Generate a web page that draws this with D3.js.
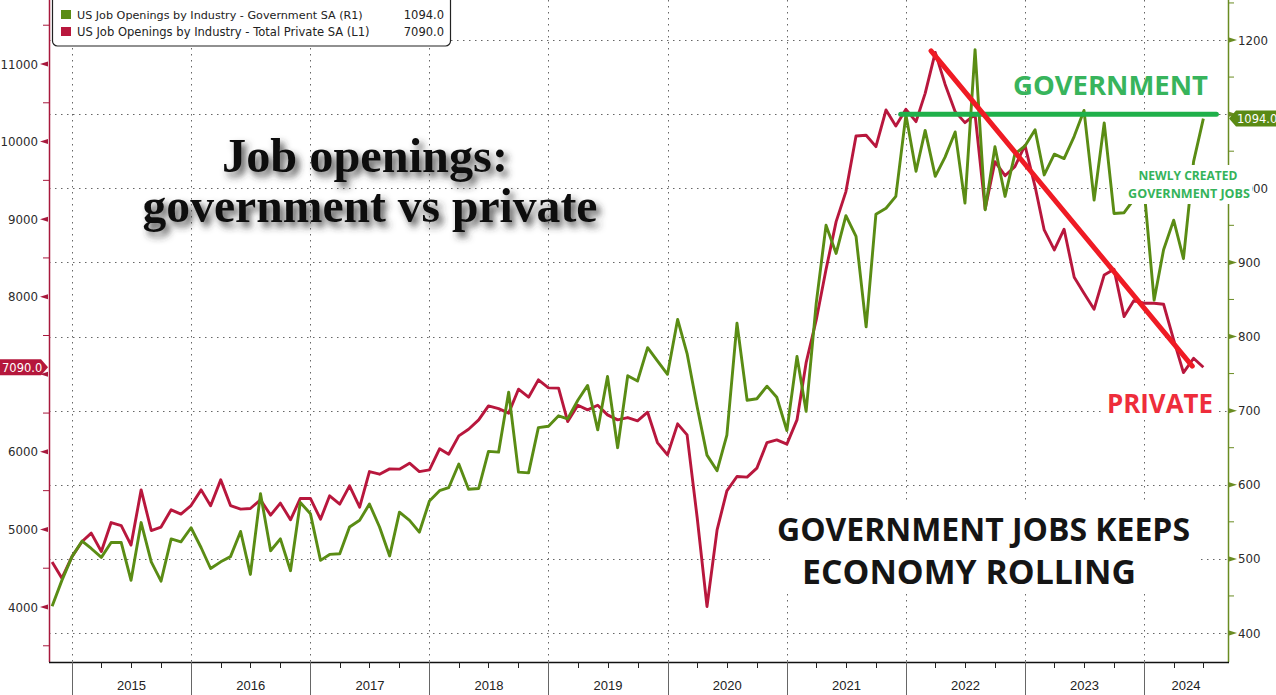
<!DOCTYPE html>
<html><head><meta charset="utf-8">
<script src="https://cdn.jsdelivr.net/npm/d3@7"></script>
<style>body{margin:0;background:#fff}svg{display:block}</style>
</head><body>
<svg id="c" width="1276" height="695"></svg>
<script>
// ---------- DATA ----------
// monthly points, first point Nov 2014 position, last Jul 2024 position (117 points)
const firstPoint = "2014-11-01";
const lastPoint = "2024-07-01";
const privateValues = [4579,4372,4650,4844,4952,4715,5089,5050,4798,5510,4986,5030,5253,5197,5308,5510,5304,5639,5308,5262,5270,5381,5184,5339,
5124,5399,5399,5132,5433,5326,5562,5287,5746,5712,5781,5777,5854,5746,5768,6039,5970,6206,6292,6412,6593,6558,6499,6808,6705,6928,6825,6821,
6391,6601,6541,6601,6477,6412,6442,6399,6511,6120,5961,6361,6219,5150,4007,4995,5497,5682,5674,5790,6120,6155,6099,6412,7150,7700,8350,8968,
9355,10072,10081,9935,10407,10201,10416,10257,10622,11150,10740,10386,10244,10350,9130,9741,9560,9677,9950,9420,8861,8603,8870,8251,8045,7839,
8281,8354,7744,7950,7916,7916,7903,7443,7022,7207,7090];
const govValues = [436,471,503,524,514,502,522,522,471,549,496,470,527,523,542,515,487,496,503,537,479,588,511,527,
484,576,561,498,506,507,543,552,574,543,504,563,552,536,578,592,596,628,594,595,645,644,725,617,616,677,679,693,
689,714,734,674,746,650,747,740,785,767,749,823,777,705,640,619,667,818,714,716,733,718,673,773,699,845,950,912,
963,935,813,965,973,989,1099,1023,1078,1016,1042,1076,980,1187,971,1056,989,1046,1057,1079,1018,1046,1040,1070,1105,984,
1088,966,967,985,1000,849,917,957,905,1036,1094];
const leftTicks = [4000,5000,6000,7000,8000,9000,10000,11000];
const leftMinor = [3500,4500,5500,6500,7500,8500,9500,10500,11500];
const rightTicks = [400,500,600,700,800,900,1000,1100,1200];
const rightMinor = [450,550,650,750,850,950,1050,1150,1250];
const hiddenLabels = [7000,1100]; // covered by the last-value tags in the original
const years = [2015,2016,2017,2018,2019,2020,2021,2022,2023,2024];
const legendNames = ["US Job Openings by Industry - Government SA (R1)","US Job Openings by Industry - Total Private SA (L1)"];
const lastGov = 1094.0, lastPrivate = 7090.0;
// annotations in data units
const govLevel = {from:"2021-12-16", to:"2024-08-10", value:1100};
const privTrend = {from:"2022-03-19", fromValue:11170, to:"2024-05-28", toValue:7105};

// ---------- LAYOUT ----------
const W=1276,H=695, L=49, R=1228, B=662;
const parse = d3.timeParse("%Y-%m-%d");
const months = d3.timeMonth.range(parse(firstPoint), d3.timeMonth.offset(parse(lastPoint),1));
const x = d3.scaleTime().domain([new Date(2015,0,1), new Date(2024,0,1)]).range([72,1144]);
const yL = d3.scaleLinear().domain([4000,11000]).range([607,64]);
const yR = d3.scaleLinear().domain([400,1200]).range([633,40]);

const RED="#b8173d", GREEN="#5a8c14", LRED="#a8183c", LGREEN="#6a8c22";
const svg = d3.select("#c");
const defs = svg.append("defs");
const f = defs.append("filter").attr("id","sh").attr("x","-10%").attr("y","-20%").attr("width","130%").attr("height","160%");
f.append("feDropShadow").attr("dx",4).attr("dy",5).attr("stdDeviation",3.5).attr("flood-color","#333").attr("flood-opacity",0.85);

svg.append("rect").attr("width",W).attr("height",H).attr("fill","#fff");

// gridlines
const grid = svg.append("g").attr("stroke","#666").attr("stroke-width",1).attr("stroke-dasharray","1.5,4.5");
grid.selectAll("line.h").data(rightTicks).join("line").attr("class","h")
  .attr("x1",L).attr("x2",R).attr("y1",d=>Math.round(yR(d))+0.5).attr("y2",d=>Math.round(yR(d))+0.5);
grid.selectAll("line.v").data(years).join("line").attr("class","v")
  .attr("x1",d=>Math.round(x(new Date(d,0,1)))+0.5).attr("x2",d=>Math.round(x(new Date(d,0,1)))+0.5)
  .attr("y1",0).attr("y2",B);

// series
const lineP = d3.line().x((d,i)=>x(months[i])).y(d=>yL(d));
const lineG = d3.line().x((d,i)=>x(months[i])).y(d=>yR(d));
svg.append("path").datum(privateValues).attr("d",lineP).attr("fill","none").attr("stroke",RED).attr("stroke-width",2.9).attr("stroke-linejoin","round");
svg.append("path").datum(govValues).attr("d",lineG).attr("fill","none").attr("stroke",GREEN).attr("stroke-width",2.9).attr("stroke-linejoin","round");

// axes lines
svg.append("line").attr("x1",L+0.5).attr("x2",L+0.5).attr("y1",0).attr("y2",B).attr("stroke",LRED).attr("stroke-width",1.5);
svg.append("line").attr("x1",R+0.5).attr("x2",R+0.5).attr("y1",0).attr("y2",B).attr("stroke",LGREEN).attr("stroke-width",1.5);
svg.append("line").attr("x1",L).attr("x2",R+1).attr("y1",B+0.5).attr("y2",B+0.5).attr("stroke","#111").attr("stroke-width",1.6);

// left axis
const la = svg.append("g");
la.selectAll("path.tri").data(leftTicks).join("path").attr("class","tri")
  .attr("d",d=>`M${L-1},${yL(d)-2.5}L${L-9},${yL(d)}L${L-1},${yL(d)+2.5}Z`).attr("fill",LRED);
la.selectAll("line.mn").data(leftMinor).join("line").attr("class","mn")
  .attr("x1",L-6).attr("x2",L).attr("y1",d=>yL(d)).attr("y2",d=>yL(d)).attr("stroke",LRED).attr("stroke-width",1);
la.selectAll("text").data(leftTicks.filter(d=>!hiddenLabels.includes(d))).join("text")
  .attr("x",L-11).attr("y",d=>yL(d)+4.5).attr("text-anchor","end")
  .attr("font-family","DejaVu Sans").attr("font-size",11.8).attr("fill","#2a2a2a").text(d=>d);

// right axis
const ra = svg.append("g");
ra.selectAll("path.tri").data(rightTicks).join("path").attr("class","tri")
  .attr("d",d=>`M${R+1},${yR(d)-2.5}L${R+9},${yR(d)}L${R+1},${yR(d)+2.5}Z`).attr("fill",LGREEN);
ra.selectAll("line.mn").data(rightMinor).join("line").attr("class","mn")
  .attr("x1",R).attr("x2",R+6).attr("y1",d=>yR(d)).attr("y2",d=>yR(d)).attr("stroke",LGREEN).attr("stroke-width",1);
ra.selectAll("text").data(rightTicks.filter(d=>!hiddenLabels.includes(d))).join("text")
  .attr("x",R+10).attr("y",d=>yR(d)+4.5).attr("text-anchor","start")
  .attr("font-family","DejaVu Sans").attr("font-size",11.8).attr("fill","#2a2a2a").text(d=>d);

// bottom axis
const ba = svg.append("g");
ba.selectAll("line.sep").data(years).join("line").attr("class","sep")
  .attr("x1",d=>Math.round(x(new Date(d,0,1)))+0.5).attr("x2",d=>Math.round(x(new Date(d,0,1)))+0.5)
  .attr("y1",B).attr("y2",H).attr("stroke","#666").attr("stroke-width",1);
const quarters = d3.timeMonth.every(3).range(new Date(2014,9,1), new Date(2024,9,1)).filter(d=>d.getMonth()!==0 && x(d)>L && x(d)<R);
ba.selectAll("line.q").data(quarters).join("line").attr("class","q")
  .attr("x1",d=>Math.round(x(d))+0.5).attr("x2",d=>Math.round(x(d))+0.5)
  .attr("y1",B).attr("y2",B+6).attr("stroke","#222").attr("stroke-width",1);
ba.selectAll("text").data(years).join("text")
  .attr("x",d=>(x(new Date(d,0,1))+Math.min(R,x(new Date(d+1,0,1))))/2).attr("y",H-5)
  .attr("text-anchor","middle").attr("font-family","Liberation Sans Narrow, Liberation Sans").attr("font-size",13)
  .attr("fill","#222").text(d=>d);

// annotations: green level, red trend
svg.append("line").attr("x1",x(parse(govLevel.from))).attr("x2",x(parse(govLevel.to)))
  .attr("y1",yR(govLevel.value)).attr("y2",yR(govLevel.value))
  .attr("stroke","#1fb04a").attr("stroke-width",5).attr("stroke-linecap","round");
svg.append("line").attr("x1",x(parse(privTrend.from))).attr("y1",yL(privTrend.fromValue))
  .attr("x2",x(parse(privTrend.to))).attr("y2",yL(privTrend.toValue))
  .attr("stroke","#ef1b24").attr("stroke-width",5).attr("stroke-linecap","round");

function fit(sel,w){const n=sel.node();const Lw=n.getComputedTextLength();const fs=+sel.attr("font-size");sel.attr("font-size",fs*w/Lw);return sel;}

// NEWLY CREATED label
svg.append("rect").attr("x",1118).attr("y",165).attr("width",134).attr("height",39).attr("fill","#fff");
const nc = svg.append("g").attr("font-family","Open Sans").attr("font-weight",700).attr("fill","#35b35a").attr("text-anchor","middle");
fit(nc.append("text").attr("x",1188).attr("y",180).attr("font-size",11.5).text("NEWLY CREATED"),99);
fit(nc.append("text").attr("x",1189).attr("y",198).attr("font-size",11.5).text("GOVERNMENT JOBS"),122);

// big labels
fit(svg.append("text").attr("x",1013).attr("y",95).attr("font-family","Open Sans").attr("font-weight",700)
  .attr("font-size",26).attr("fill","#38b45c").text("GOVERNMENT"),195);
svg.append("rect").attr("x",1102).attr("y",389).attr("width",116).attr("height",30).attr("fill","#fff");
fit(svg.append("text").attr("x",1107).attr("y",413).attr("font-family","Open Sans").attr("font-weight",700)
  .attr("font-size",27).attr("fill","#ee2d3b").text("PRIVATE"),106);

svg.append("rect").attr("x",770).attr("y",504).attr("width",430).attr("height",88).attr("fill","#fff");
fit(svg.append("text").attr("x",983.5).attr("y",541).attr("text-anchor","middle").attr("font-family","Open Sans").attr("font-weight",700)
  .attr("font-size",32).attr("fill","#151515").text("GOVERNMENT JOBS KEEPS"),413);
fit(svg.append("text").attr("x",969).attr("y",584).attr("text-anchor","middle").attr("font-family","Open Sans").attr("font-weight",700)
  .attr("font-size",32).attr("fill","#151515").text("ECONOMY ROLLING"),334);

// title
const tg = svg.append("g").attr("filter","url(#sh)").attr("font-family","Liberation Serif").attr("font-weight",700).attr("fill","#111").attr("text-anchor","middle");
fit(tg.append("text").attr("x",365).attr("y",172).attr("font-size",46).text("Job openings:"),286);
fit(tg.append("text").attr("x",370).attr("y",222).attr("font-size",46).text("government vs private"),455);

// legend
svg.append("rect").attr("x",52.5).attr("y",-6).attr("width",398).attr("height",52).attr("rx",5)
  .attr("fill","#fff").attr("stroke","#222").attr("stroke-width",1.2);
const lg = svg.append("g").attr("font-family","DejaVu Sans").attr("font-size",11.5).attr("fill","#222");
[[GREEN,legendNames[0],lastGov],[RED,legendNames[1],lastPrivate]].forEach((e,i)=>{
  lg.append("rect").attr("x",61).attr("y",10+i*17).attr("width",10).attr("height",9).attr("fill",e[0]);
  fit(lg.append("text").attr("x",77).attr("y",19+i*17).attr("font-size",11.5).text(e[1]), i===0?286:293);
  lg.append("text").attr("x",444).attr("y",19+i*17).attr("text-anchor","end").text(e[2].toFixed(1));
});

// value tags
const yp = yL(lastPrivate);
svg.append("path").attr("d",`M0,${yp-8}L41,${yp-8}L48,${yp}L41,${yp+8}L0,${yp+8}Z`).attr("fill","#b5173c");
svg.append("text").attr("x",2).attr("y",yp+4.5).attr("font-family","DejaVu Sans").attr("font-size",11.5).attr("fill","#fff").text(lastPrivate.toFixed(1));
const yg = yR(lastGov);
svg.append("path").attr("d",`M1229,${yg}L1236,${yg-8}L1276,${yg-8}L1276,${yg+8}L1236,${yg+8}Z`).attr("fill","#5a8a14");
svg.append("text").attr("x",1237).attr("y",yg+4.5).attr("font-family","DejaVu Sans").attr("font-size",11.5).attr("fill","#fff").text(lastGov.toFixed(1));
</script>
</body></html>
